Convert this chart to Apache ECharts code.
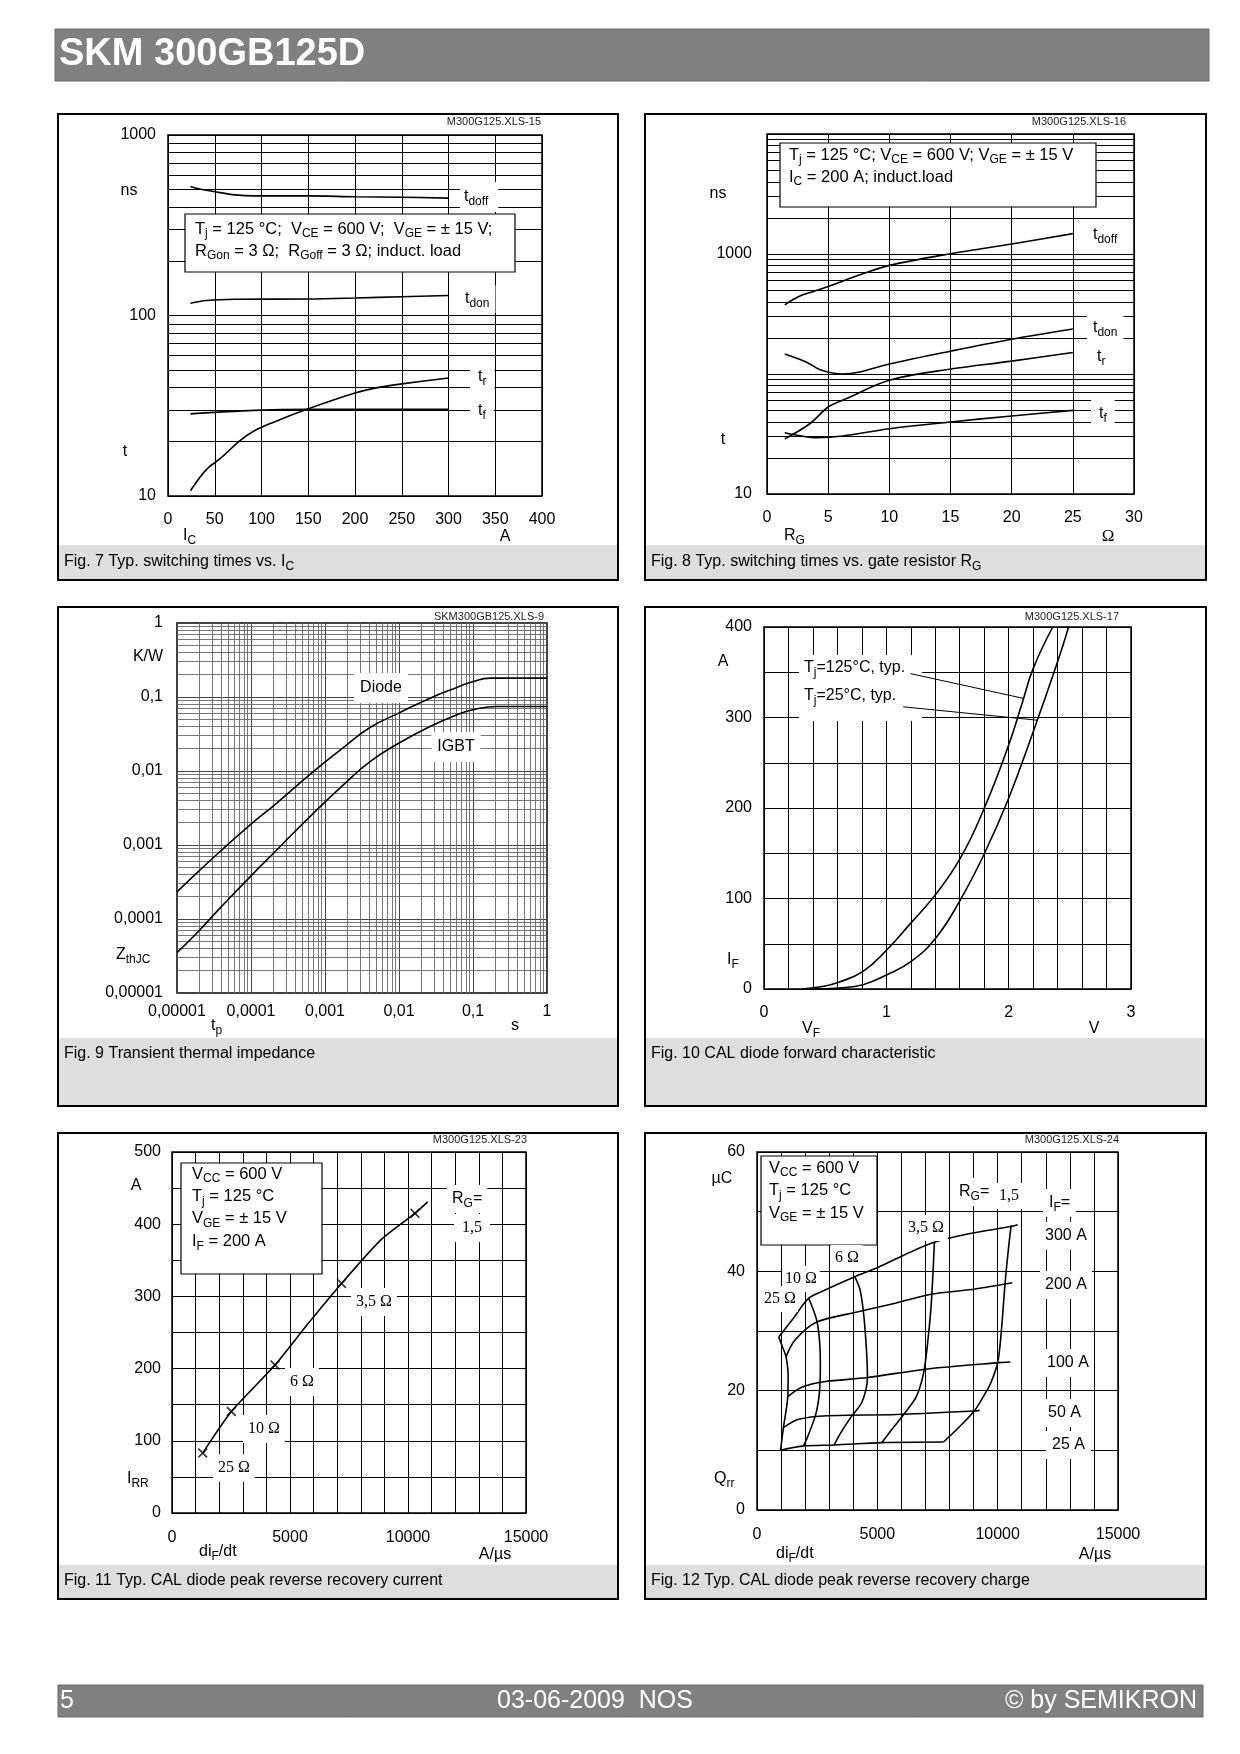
<!DOCTYPE html>
<html><head><meta charset="utf-8">
<script src="https://cdn.jsdelivr.net/npm/echarts@6/dist/echarts.min.js"></script>
<style>html,body{margin:0;padding:0;background:#fff}#c{width:1240px;height:1754px}</style>
</head><body><div id="c"></div>
<script>
// ===== Fig. 7 : switching times vs I_C (ns) =====
const f7TdoffIc = [24, 35, 49, 72, 92, 150, 200, 250, 300];
const f7TdoffNs = [518, 500, 486, 466, 460, 460, 455, 452, 447];
const f7TdonIc  = [24, 41, 72, 150, 200, 250, 300];
const f7TdonNs  = [117, 121, 123, 123.5, 125, 127, 129];
const f7TrIc    = [24, 41, 57, 76, 92, 111, 150, 200, 227, 250, 300];
const f7TrNs    = [10.7, 14.0, 16.3, 20.1, 22.9, 25.4, 30.4, 37.2, 40.1, 41.8, 45.1];
const f7TfIc    = [24, 92, 150, 300];
const f7TfNs    = [28.5, 29.8, 30.2, 30.2];
const f7YShown  = [10, 100, 1000];

// ===== Fig. 8 : switching times vs R_G (ns) =====
const f8TdoffRg = [1.45, 2.6, 3.8, 5, 7.6, 10, 15, 20, 25];
const f8TdoffNs = [377, 443, 487, 536, 671, 804, 1006, 1213, 1479];
const f8TdonRg  = [1.45, 3.2, 4.4, 6.2, 7.6, 10, 15, 20, 25];
const f8TdonNs  = [147, 126, 108, 100, 104, 121, 155, 195, 237];
const f8TrRg    = [1.45, 3.5, 5, 6.5, 10, 15, 20, 25];
const f8TrNs    = [28.8, 38.5, 53.1, 62.4, 88.8, 110, 128, 151];
const f8TfRg    = [1.45, 2.6, 4.1, 6.2, 10, 15, 20, 25];
const f8TfNs    = [32.4, 30.7, 29.4, 30.4, 35, 39.8, 44.7, 49.8];
const f8YShown  = [10, 1000];

// ===== Fig. 9 : transient thermal impedance (K/W vs s) =====
const f9Tp    = [1e-5, 1.83e-5, 3.78e-5, 9.93e-5, 2.21e-4, 6.94e-4, 1.77e-3, 4.06e-3, 9.9e-3, 0.0263, 0.0605, 0.1, 0.171, 1];
const f9Diode = [2.33e-4, 4.13e-4, 8.1e-4, 1.9e-3, 3.66e-3, 9.8e-3, 0.0207, 0.0387, 0.0605, 0.0965, 0.1346, 0.162, 0.18, 0.18];
const f9IgbtTp = [1e-5, 1.83e-5, 3.78e-5, 9.93e-5, 2.21e-4, 6.94e-4, 1.77e-3, 4.06e-3, 9.9e-3, 0.0263, 0.0605, 0.1, 0.21, 1];
const f9Igbt  = [3.52e-5, 6.36e-5, 1.39e-4, 3.8e-4, 8.5e-4, 2.68e-3, 6.5e-3, 0.0134, 0.0237, 0.0399, 0.0574, 0.0671, 0.0745, 0.0745];
const f9Ticks = ['0,00001', '0,0001', '0,001', '0,01', '0,1', '1'];

// ===== Fig. 10 : diode forward characteristic (A vs V) =====
const f10V125 = [0.31, 0.49, 0.61, 0.81, 1.005, 1.20, 1.40, 1.605, 1.80, 2.0, 2.113, 2.2, 2.36];
const f10I125 = [0, 3, 7.4, 19.5, 43.4, 72.8, 104, 144.5, 199.6, 269.5, 317, 354, 400];
const f10V25  = [0.40, 0.61, 0.81, 1.005, 1.203, 1.404, 1.605, 1.803, 2.0, 2.2, 2.395, 2.49];
const f10I25  = [0, 1.1, 4.8, 15.8, 30.5, 56.3, 98.5, 150, 210.7, 284, 359.6, 400];
const f10XShown = [0, 1, 2, 3];
const f10YShown = [0, 100, 200, 300, 400];

// ===== Fig. 11 : peak reverse recovery current (A vs A/us) =====
const f11Di   = [1302, 2513, 4366, 5775, 7185, 8840, 10295, 10831];
const f11Irr  = [83, 140.5, 205, 262.7, 318, 378, 415, 431];
const f11MarkDi  = [1302, 2513, 4366, 7185, 10295];
const f11MarkIrr = [83, 140.5, 205, 318, 415];
const f11XShown = [0, 5000, 10000, 15000];
const f11YShown = [0, 100, 200, 300, 400, 500];

// ===== Fig. 12 : peak reverse recovery charge (uC vs A/us) =====
const f12If300X = [903, 1504, 2151, 2783, 4062, 5040, 6093, 7297, 8801, 10531, 10832];
const f12If300Y = [29.0, 32.1, 35.5, 36.8, 39.1, 40.7, 42.7, 44.8, 46.3, 47.5, 47.8];
const f12If200X = [1204, 1580, 2482, 4062, 5792, 7297, 8801, 10607];
const f12If200Y = [25.7, 28.5, 31.5, 33.1, 34.7, 36.2, 36.9, 38.1];
const f12If100X = [1279, 1881, 2783, 4589, 6996, 10080, 10531];
const f12If100Y = [19.0, 20.6, 21.5, 22.2, 23.6, 24.7, 24.8];
const f12If50X  = [1098, 1730, 2934, 5792, 9027, 9253];
const f12If50Y  = [13.8, 15.2, 15.8, 16.0, 16.6, 16.7];
const f12If25X  = [978, 1881, 3235, 5190, 7748];
const f12If25Y  = [10.0, 10.7, 10.9, 11.3, 11.4];
const f12Rg25X  = [903, 1053, 1204, 1294, 1279, 1098, 978];
const f12Rg25Y  = [29.0, 27.4, 25.7, 22.5, 19.0, 13.8, 10.0];
const f12Rg10X  = [2151, 2512, 2633, 2603, 2452, 2106, 1926];
const f12Rg10Y  = [35.5, 31.25, 24.55, 20.1, 16.2, 12.3, 10.7];
const f12Rg6X   = [4062, 4288, 4469, 4589, 4363, 3912, 3460, 3205];
const f12Rg6Y   = [39.1, 36.8, 31.25, 22.2, 18.1, 15.6, 12.8, 10.9];
const f12Rg35X  = [7372, 7297, 7222, 7071, 6920, 6620, 6093, 5642, 5190];
const f12Rg35Y  = [44.9, 38.5, 33.5, 27.3, 22.9, 19.0, 16.0, 13.7, 11.3];
const f12Rg15X  = [10561, 10456, 10306, 10155, 10005, 9704, 9403, 9027, 8350, 7748];
const f12Rg15Y  = [47.7, 44.1, 37.9, 30.1, 24.8, 21.2, 19.0, 16.6, 13.7, 11.4];
const f12XShown = [0, 5000, 10000, 15000];
const f12YShown = [0, 20, 40, 60];

// ---------------------------------------------------------------
const SANS = '"Liberation Sans", Arial, Helvetica, sans-serif';
const SERIF = '"Liberation Serif", "Times New Roman", serif';

function rich(s) {
  let out = '', last = 0, m; const re = /_\{([^}]*)\}/g;
  while ((m = re.exec(s))) {
    if (m.index > last) out += '{n|' + s.slice(last, m.index) + '}';
    out += '{s|' + m[1] + '}'; last = re.lastIndex;
  }
  if (last < s.length) out += '{n|' + s.slice(last) + '}';
  return out;
}
function T(x, y, s, o) {
  o = o || {};
  const fs = o.size || 16, fam = o.serif ? SERIF : SANS, col = o.color || '#000';
  const st = {
    text: rich(s), align: o.align || 'left', verticalAlign: 'middle', fill: col,
    rich: {
      n: { fontSize: fs, fontFamily: fam, fontWeight: o.bold ? 'bold' : 'normal', lineHeight: Math.round(fs * 1.35), fill: col, color: col },
      s: { fontSize: Math.round(fs * 0.72), fontFamily: fam, lineHeight: Math.round(fs * 0.8), verticalAlign: 'bottom', fill: col, color: col }
    }
  };
  if (o.bg) { st.backgroundColor = o.bg; st.padding = o.pad || [3, 5]; }
  return { type: 'text', x: x, y: y, z: o.z || 102, silent: true, style: st };
}
function R(x, y, w, h, fill, stroke, lw, z) {
  return { type: 'rect', z: z == null ? 100 : z, silent: true, shape: { x: x, y: y, width: w, height: h },
    style: { fill: fill || 'none', stroke: stroke || 'none', lineWidth: lw || 0 } };
}
const pairs = (xs, ys) => xs.map((x, i) => [x, ys[i]]);
function curve(gi, xs, ys, smooth) {
  return { type: 'line', xAxisIndex: gi, yAxisIndex: gi, data: pairs(xs, ys), symbol: 'none', showSymbol: false,
    smooth: smooth == null ? 0.35 : smooth, silent: true, animation: false, z: 3,
    lineStyle: { color: '#000', width: 1.6 } };
}
function gridLines(gi, xs, ys, color, width) {
  const d = [];
  xs.forEach(v => d.push({ xAxis: v }));
  ys.forEach(v => d.push({ yAxis: v }));
  return { type: 'line', xAxisIndex: gi, yAxisIndex: gi, data: [], silent: true, animation: false,
    markLine: { silent: true, animation: false, z: 1, precision: 15, symbol: ['none', 'none'], label: { show: false },
      emphasis: { disabled: true }, lineStyle: { color: color, width: width, type: 'solid' }, data: d } };
}
const minors = (e0, e1) => { const a = []; for (let e = e0; e < e1; e++) for (let k = 2; k <= 9; k++) a.push(+(k * Math.pow(10, e)).toPrecision(6)); return a; };
const shownFmt = (list, f) => v => list.some(s => Math.abs(s - v) < 1e-6 * Math.max(1, Math.abs(s))) ? (f ? f(v) : String(v)) : '';

function ax(gi, type, min, max, interval, margin, fmt, gridColor) {
  const a = { gridIndex: gi, type: type, min: min, max: max,
    axisLine: { show: false }, axisTick: { show: false },
    splitLine: { show: true, lineStyle: { color: gridColor || '#000', width: 1 } },
    axisLabel: { fontSize: 16, fontFamily: SANS, color: '#000', margin: margin, hideOverlap: false, showMinLabel: true, showMaxLabel: true } };
  if (type === 'log') a.logBase = 10;
  if (interval != null) a.interval = interval;
  if (fmt) a.axisLabel.formatter = fmt;
  return a;
}
const gridBox = (l, t, w, h) => ({ left: l, top: t, width: w, height: h, show: true, borderColor: '#000', borderWidth: 1.5,
  backgroundColor: 'rgba(0,0,0,0)', containLabel: false, outerBoundsMode: 'none' });

const f9Fmt = v => f9Ticks[Math.round(Math.log10(v)) + 5] || '';
const logFmt = list => v => { const p = Math.pow(10, Math.round(Math.log10(v))); return list.indexOf(p) >= 0 ? String(p) : ''; };

const xMark = 'path://M0,1.2L1.2,0L5,3.8L8.8,0L10,1.2L6.2,5L10,8.8L8.8,10L5,6.2L1.2,10L0,8.8L3.8,5Z';

const G = [];
// header / footer
G.push(R(55, 29, 1154, 52, '#808080', '#6a6a6a', 1, 0));
G.push(T(59, 55, 'SKM 300GB125D', { size: 38, bold: true, color: '#fff' }));
G.push(R(58, 1685, 1145, 32, '#808080', '#6a6a6a', 1, 0));
G.push(T(60, 1701, '5', { size: 25, color: '#fff' }));
G.push(T(595, 1701, '03-06-2009  NOS', { size: 25, color: '#fff', align: 'center' }));
G.push(T(1197, 1701, '© by SEMIKRON', { size: 25, color: '#fff', align: 'right' }));
// panels
[
  [58, 114, 560, 466, 545, 34, 'Fig. 7 Typ. switching times vs. I_{C}', 562],
  [645, 114, 561, 466, 545, 34, 'Fig. 8 Typ. switching times vs. gate resistor R_{G}', 562],
  [58, 607, 560, 499, 1038, 67, 'Fig. 9 Transient thermal impedance', 1054],
  [645, 607, 561, 499, 1038, 67, 'Fig. 10 CAL diode forward characteristic', 1054],
  [58, 1133, 560, 466, 1565, 33, 'Fig. 11 Typ. CAL diode peak reverse recovery current', 1581],
  [645, 1133, 561, 466, 1565, 33, 'Fig. 12 Typ. CAL diode peak reverse recovery charge', 1581]
].forEach(p => {
  G.push(R(p[0] + 1, p[4], p[2] - 2, p[5], '#dedede', null, 0, 90));
  G.push(T(p[0] + 6, p[7], p[6], { size: 16 }));
  G.push(R(p[0], p[1], p[2], p[3], 'none', '#000', 2, 100));
});
// file ids
G.push(T(541, 122, 'M300G125.XLS-15', { size: 11, align: 'right', color: '#222' }));
G.push(T(1126, 122, 'M300G125.XLS-16', { size: 11, align: 'right', color: '#222' }));
G.push(T(544, 617, 'SKM300GB125.XLS-9', { size: 11, align: 'right', color: '#222' }));
G.push(T(1119, 617, 'M300G125.XLS-17', { size: 11, align: 'right', color: '#222' }));
G.push(T(527, 1140, 'M300G125.XLS-23', { size: 11, align: 'right', color: '#222' }));
G.push(T(1119, 1140, 'M300G125.XLS-24', { size: 11, align: 'right', color: '#222' }));
// axis names
G.push(T(129, 191, 'ns', { align: 'center' }), T(125, 452, 't', { align: 'center' }), T(183, 536, 'I_{C}'), T(505, 537, 'A', { align: 'center' }));
G.push(T(718, 194, 'ns', { align: 'center' }), T(723, 440, 't', { align: 'center' }), T(784, 536, 'R_{G}'), T(1108, 537, 'Ω', { align: 'center', serif: true, size: 17 }));
G.push(T(148, 657, 'K/W', { align: 'center' }), T(116, 955, 'Z_{thJC}'), T(211, 1026, 't_{p}'), T(515, 1026, 's', { align: 'center' }));
G.push(T(723, 662, 'A', { align: 'center' }), T(727, 960, 'I_{F}'), T(802, 1029, 'V_{F}'), T(1094, 1029, 'V', { align: 'center' }));
G.push(T(136, 1186, 'A', { align: 'center' }), T(127, 1479, 'I_{RR}'), T(199, 1552, 'di_{F}/dt'), T(495, 1555, 'A/µs', { align: 'center' }));
G.push(T(722, 1179, 'µC', { align: 'center' }), T(714, 1479, 'Q_{rr}'), T(776, 1554, 'di_{F}/dt'), T(1095, 1555, 'A/µs', { align: 'center' }));
// condition boxes
G.push(R(185, 214, 330, 58, '#fff', '#000', 1.2, 100));
G.push(T(195, 229, 'T_{j} = 125 °C;  V_{CE} = 600 V;  V_{GE} = ± 15 V;', { size: 16.5 }));
G.push(T(195, 251, 'R_{Gon} = 3 Ω;  R_{Goff} = 3 Ω; induct. load', { size: 16.5 }));
G.push(R(780, 143, 316, 64, '#fff', '#000', 1.2, 100));
G.push(T(789, 155, 'T_{j} = 125 °C; V_{CE} = 600 V; V_{GE} = ± 15 V', { size: 16.5 }));
G.push(T(789, 177, 'I_{C} = 200 A; induct.load', { size: 16.5 }));
G.push(R(181, 1163, 141, 111, '#fff', '#000', 1.2, 100));
['V_{CC} = 600 V', 'T_{j} = 125 °C', 'V_{GE} = ± 15 V', 'I_{F} = 200 A'].forEach((s, i) => G.push(T(192, 1174 + i * 22.4, s, { size: 16.5 })));
G.push(R(761, 1156, 116, 89, '#fff', '#000', 1.2, 100));
['V_{CC} = 600 V', 'T_{j} = 125 °C', 'V_{GE} = ± 15 V'].forEach((s, i) => G.push(T(769, 1168 + i * 22.5, s, { size: 16.5 })));
// curve labels
const W = '#fff';
G.push(T(460, 197, 't_{doff}', { bg: W, pad: [4, 10, 4, 4] }), T(459, 299, 't_{don}', { bg: W, pad: [3, 6] }),
       T(470, 377, 't_{r}', { bg: W, pad: [3, 8] }), T(470, 411, 't_{f}', { bg: W, pad: [3, 8] }));
G.push(T(1087, 235, 't_{doff}', { bg: W, pad: [4, 6] }), T(1087, 328, 't_{don}', { bg: W, pad: [4, 6] }),
       T(1091, 357, 't_{r}', { bg: W, pad: [3, 6] }), T(1091, 414, 't_{f}', { bg: W, pad: [3, 8] }));
G.push(T(381, 688, 'Diode', { align: 'center', bg: W, pad: [4, 6] }), T(456, 747, 'IGBT', { align: 'center', bg: W, pad: [4, 6] }));
G.push(R(799, 655, 123, 66, '#fff', null, 0, 100));
G.push(T(804, 668, 'T_{j}=125°C, typ.'), T(804, 696, 'T_{j}=25°C, typ.'));
G.push(T(447, 1199, 'R_{G}=', { bg: W, pad: [3, 5] }), T(454, 1228, '1,5', { serif: true, bg: W, pad: [3, 8] }),
       T(351, 1302, '3,5 Ω', { serif: true, bg: W }), T(285, 1382, '6 Ω', { serif: true, bg: W }),
       T(243, 1429, '10 Ω', { serif: true, bg: W }), T(213, 1468, '25 Ω', { serif: true, bg: W }));
G.push(T(957, 1192, 'R_{G}=', { bg: W, pad: [3, 2] }), T(996, 1196, '1,5', { serif: true, bg: W, pad: [2, 3] }),
       T(1043, 1203, 'I_{F}=', { bg: W, pad: [3, 6] }),
       T(1040, 1236, '300 A', { bg: W, pad: [3, 5] }), T(1040, 1285, '200 A', { bg: W, pad: [3, 5] }),
       T(1042, 1363, '100 A', { bg: W, pad: [3, 5] }), T(1043, 1413, '50 A', { bg: W, pad: [3, 5] }),
       T(1046, 1445, '25 A', { bg: W, pad: [3, 6] }),
       T(904, 1228, '3,5 Ω', { serif: true, bg: W, pad: [2, 4] }), T(831, 1258, '6 Ω', { serif: true, bg: W, pad: [2, 4] }),
       T(782, 1279, '10 Ω', { serif: true, bg: W, pad: [2, 3] }), T(762, 1299, '25 Ω', { serif: true, bg: W, pad: [2, 2] }));

const option = {
  animation: false,
  backgroundColor: '#fff',
  textStyle: { fontFamily: SANS },
  grid: [gridBox(168, 135, 374, 361), gridBox(767, 134, 367, 360), gridBox(177, 623, 370, 370),
         gridBox(764, 627, 367, 362), gridBox(172, 1152, 354, 361), gridBox(757, 1152, 361, 358)],
  xAxis: [
    ax(0, 'value', 0, 400, 50, 16),
    ax(1, 'value', 0, 30, 5, 16),
    ax(2, 'log', 1e-5, 1, null, 11, f9Fmt, '#444'),
    ax(3, 'value', 0, 3, 0.2, 16, shownFmt(f10XShown, v => String(Math.round(v)))),
    ax(4, 'value', 0, 15000, 1000, 17, shownFmt(f11XShown)),
    ax(5, 'value', 0, 15000, 1000, 17, shownFmt(f12XShown))
  ],
  yAxis: [
    ax(0, 'log', 10, 1000, null, 12, logFmt(f7YShown)),
    ax(1, 'log', 10, 10000, null, 15, logFmt(f8YShown)),
    ax(2, 'log', 1e-5, 1, null, 14, f9Fmt, '#444'),
    ax(3, 'value', 0, 400, 50, 12, shownFmt(f10YShown)),
    ax(4, 'value', 0, 500, 50, 11, shownFmt(f11YShown)),
    ax(5, 'value', 0, 60, 10, 12, shownFmt(f12YShown))
  ],
  series: [
    gridLines(0, [], minors(1, 3), '#000', 1),
    gridLines(1, [], minors(1, 4), '#000', 1),
    gridLines(2, minors(-5, 0), minors(-5, 0), '#666', 0.9),
    curve(0, f7TdoffIc, f7TdoffNs), curve(0, f7TdonIc, f7TdonNs), curve(0, f7TrIc, f7TrNs), curve(0, f7TfIc, f7TfNs),
    curve(1, f8TdoffRg, f8TdoffNs), curve(1, f8TdonRg, f8TdonNs), curve(1, f8TrRg, f8TrNs), curve(1, f8TfRg, f8TfNs),
    curve(2, f9Tp, f9Diode, 0.5), curve(2, f9IgbtTp, f9Igbt, 0.5),
    curve(3, f10V125, f10I125, 0.45), curve(3, f10V25, f10I25, 0.45),
    { type: 'line', xAxisIndex: 3, yAxisIndex: 3, data: [], silent: true, animation: false,
      markLine: { silent: true, animation: false, z: 110, precision: 15, symbol: ['none', 'none'], label: { show: false },
        emphasis: { disabled: true }, lineStyle: { color: '#000', width: 1, type: 'solid' },
        data: [[{ coord: [1.197, 348.5] }, { coord: [2.125, 321] }], [{ coord: [1.138, 311.8] }, { coord: [2.234, 297] }]] } },
    curve(4, f11Di, f11Irr, 0.2),
    { type: 'scatter', xAxisIndex: 4, yAxisIndex: 4, data: pairs(f11MarkDi, f11MarkIrr), symbol: xMark, symbolSize: 10,
      itemStyle: { color: '#000' }, silent: true, animation: false, z: 4 },
    curve(5, f12If300X, f12If300Y, 0.3), curve(5, f12If200X, f12If200Y, 0.3), curve(5, f12If100X, f12If100Y, 0.3),
    curve(5, f12If50X, f12If50Y, 0.3), curve(5, f12If25X, f12If25Y, 0.3),
    curve(5, f12Rg25X, f12Rg25Y, 0.3), curve(5, f12Rg10X, f12Rg10Y, 0.3), curve(5, f12Rg6X, f12Rg6Y, 0.3),
    curve(5, f12Rg35X, f12Rg35Y, 0.3), curve(5, f12Rg15X, f12Rg15Y, 0.3)
  ],
  graphic: { elements: G }
};
const chart = echarts.init(document.getElementById('c'), null, { renderer: 'canvas', width: 1240, height: 1754 });
chart.setOption(option);
</script></body></html>
